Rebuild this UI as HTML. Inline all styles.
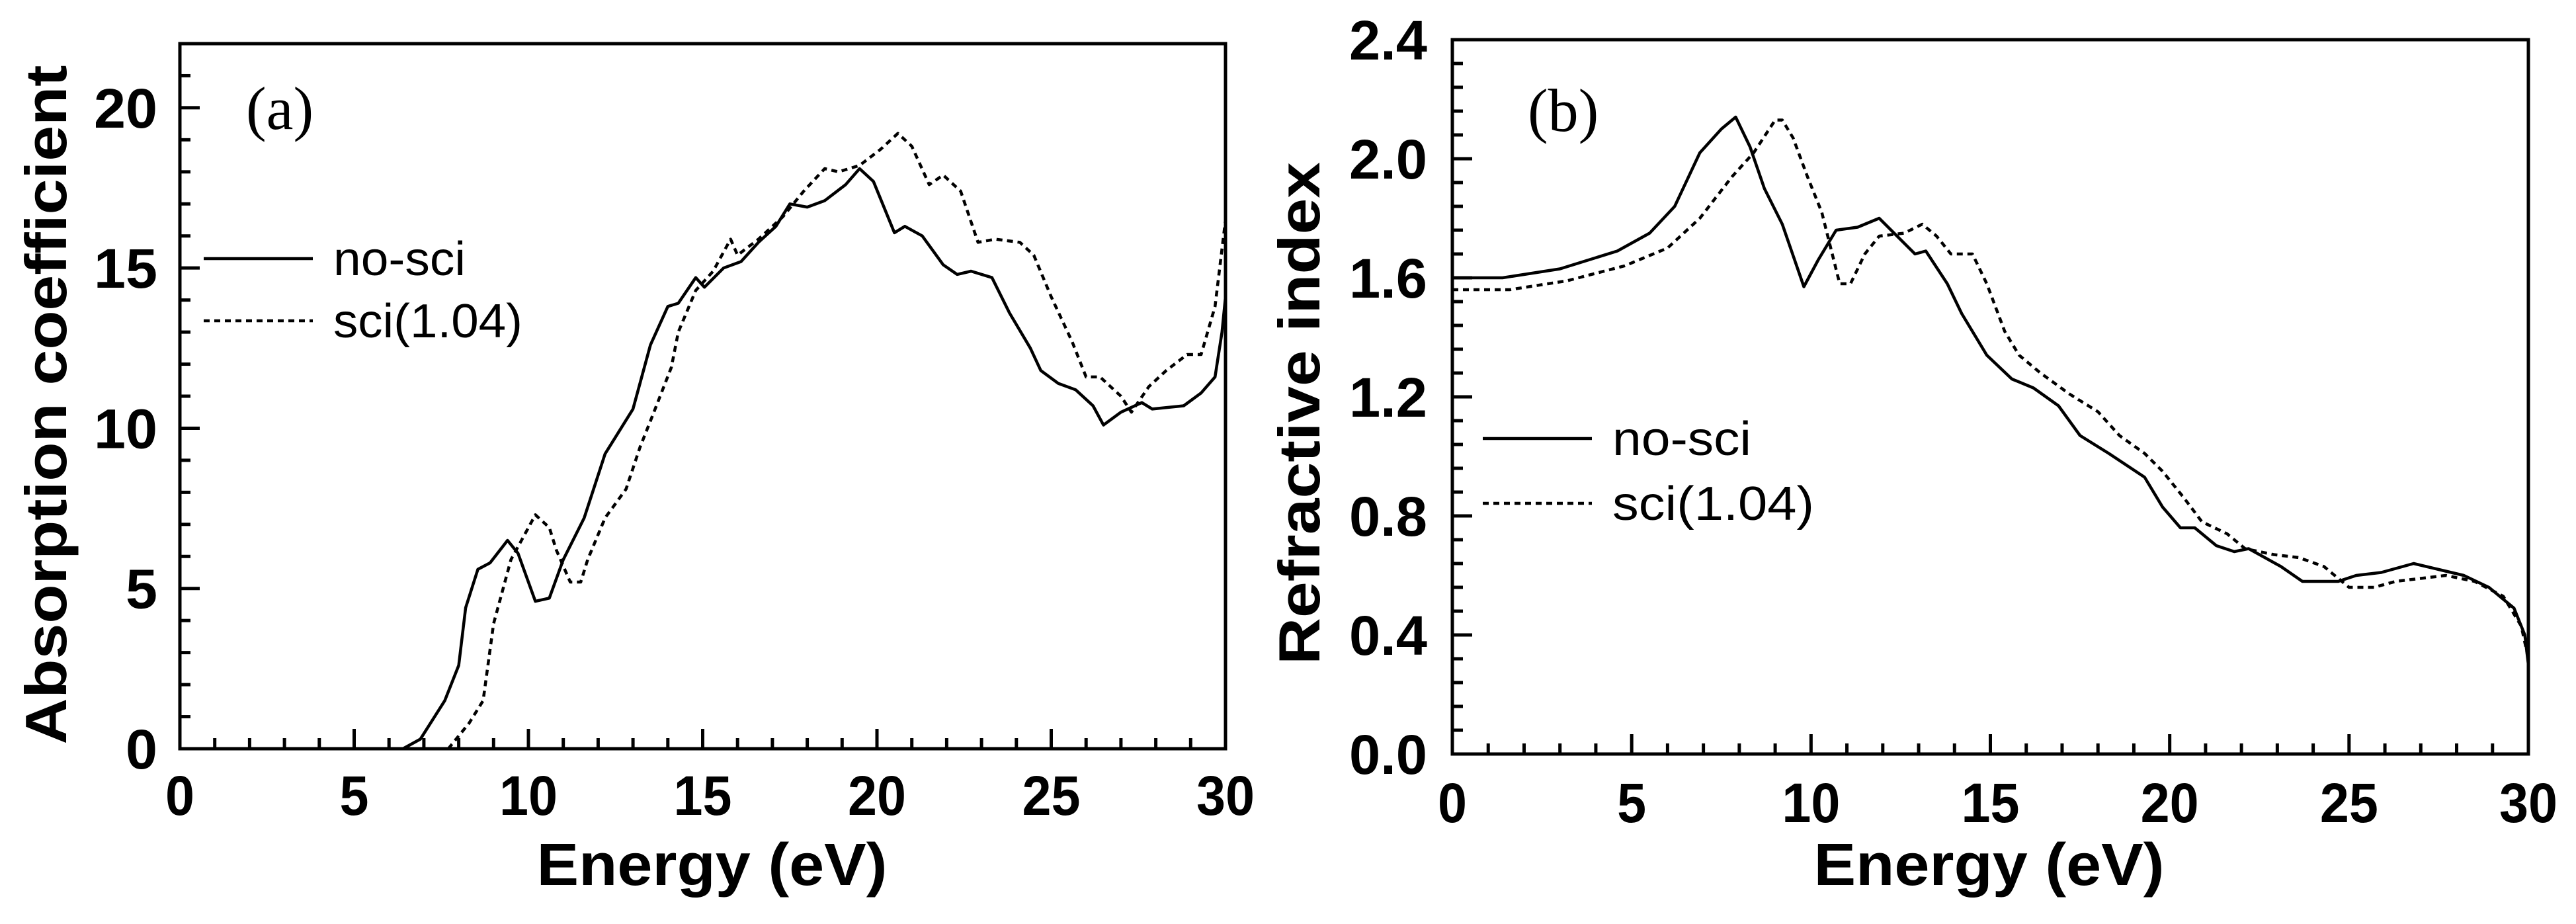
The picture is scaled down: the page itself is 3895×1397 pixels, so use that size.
<!DOCTYPE html>
<html><head><meta charset="utf-8"><style>
html,body{margin:0;padding:0;background:#fff}
svg{display:block}
text{font-family:"Liberation Sans",sans-serif;fill:#000}
</style></head><body>
<svg id="fig" width="3895" height="1397" viewBox="0 0 3895 1397" xmlns="http://www.w3.org/2000/svg"></svg>
<script>
// Panel (a) data: absorption coefficient
const aNoSciE = [6.4,6.9,7.6,8.0,8.2,8.55,8.9,9.4,9.7,10.2,10.6,11.0,11.6,12.2,12.6,13.0,13.5,14.0,14.3,14.8,15.05,15.6,16.1,16.6,17.1,17.5,18.0,18.5,19.1,19.5,19.9,20.5,20.8,21.3,21.9,22.3,22.7,23.3,23.8,24.4,24.7,25.2,25.7,26.2,26.5,27.0,27.6,27.9,28.8,29.3,29.7,29.9,30];
const aNoSciV = [0,0.3,1.5,2.6,4.4,5.6,5.8,6.5,6.1,4.6,4.7,5.9,7.2,9.2,9.9,10.6,12.6,13.8,13.9,14.7,14.4,15.0,15.2,15.8,16.3,17.0,16.9,17.1,17.6,18.1,17.7,16.1,16.3,16.0,15.1,14.8,14.9,14.7,13.6,12.5,11.8,11.4,11.2,10.7,10.1,10.5,10.8,10.6,10.7,11.1,11.6,13.0,14.1];
const aSciE = [7.7,8.3,8.7,9.0,9.5,10.0,10.2,10.6,10.8,11.2,11.5,11.7,12.2,12.8,13.2,13.6,14.1,14.3,14.8,15.3,15.8,16.0,16.6,17.3,17.9,18.5,18.9,19.5,20.1,20.6,21.0,21.5,21.9,22.4,22.9,23.4,24.1,24.5,25.0,25.6,26.0,26.4,27.0,27.3,27.8,28.3,28.9,29.3,29.7,30];
const aSciV = [0,0.8,1.5,3.9,5.9,6.9,7.3,6.9,6.2,5.2,5.2,5.9,7.2,8.1,9.4,10.5,11.9,13.0,14.3,14.9,15.9,15.4,15.9,16.6,17.4,18.1,18.0,18.2,18.7,19.2,18.8,17.6,17.9,17.4,15.8,15.9,15.8,15.4,14.1,12.7,11.6,11.6,11.0,10.5,11.3,11.8,12.3,12.3,13.8,16.5];
const aXTicks = [0,5,10,15,20,25,30];
const aYTicks = [0,5,10,15,20];
// Panel (b) data: refractive index
const bNoSciE = [0,1.4,3.0,4.6,5.5,6.2,6.9,7.5,7.9,8.3,8.7,9.2,9.8,10.2,10.7,11.3,11.9,12.4,12.9,13.2,13.8,14.2,14.9,15.6,16.2,16.9,17.5,18.3,19.3,19.8,20.3,20.7,21.3,21.8,22.2,23.1,23.7,24.7,25.2,25.9,26.2,26.8,27.5,28.2,28.9,29.6,29.9,30];
const bNoSciV = [1.60,1.60,1.63,1.69,1.75,1.84,2.02,2.10,2.14,2.04,1.90,1.78,1.57,1.66,1.76,1.77,1.80,1.74,1.68,1.69,1.58,1.48,1.34,1.26,1.23,1.17,1.07,1.01,0.93,0.83,0.76,0.76,0.70,0.68,0.69,0.63,0.58,0.58,0.60,0.61,0.62,0.64,0.62,0.60,0.56,0.49,0.40,0.30];
const bSciE = [0,1.6,3.2,4.8,6.0,6.9,7.8,8.4,9.0,9.2,9.5,9.9,10.3,10.8,11.1,11.5,11.9,12.6,13.1,13.5,13.9,14.5,14.9,15.4,15.8,16.4,17.2,18.0,18.6,19.3,19.8,20.4,20.9,21.6,22.1,22.9,23.6,24.3,25.0,25.7,26.3,27.0,27.7,28.5,29.3,29.8,30];
const bSciV = [1.56,1.56,1.59,1.64,1.70,1.80,1.94,2.02,2.13,2.13,2.07,1.94,1.82,1.58,1.58,1.68,1.74,1.75,1.78,1.74,1.68,1.68,1.58,1.42,1.34,1.28,1.21,1.15,1.07,1.01,0.95,0.86,0.78,0.74,0.69,0.67,0.66,0.63,0.56,0.56,0.58,0.59,0.60,0.58,0.53,0.43,0.32];
const bXTicks = [0,5,10,15,20,25,30];
const bYTicks = [0,0.4,0.8,1.2,1.6,2.0,2.4];

const NS = "http://www.w3.org/2000/svg";
const svg = document.getElementById('fig');
function mk(tag, attrs, parent){
  const e = document.createElementNS(NS, tag);
  for (const k in attrs) e.setAttribute(k, attrs[k]);
  (parent||svg).appendChild(e);
  return e;
}
function panel(p){
  const g = mk('g', {});
  
  
  const X = v => p.x0 + (v - p.xmin) / (p.xmax - p.xmin) * (p.x1 - p.x0);
  const Y = v => p.y0 - (v - p.ymin) / (p.ymax - p.ymin) * (p.y0 - p.y1);
  // minor/major ticks x
  for (let v = p.xmin; v <= p.xmax + 1e-9; v += p.xMinor) {
    const major = Math.abs(v / 5 - Math.round(v / 5)) < 1e-6;
    const t = mk('line', {x1:X(v), x2:X(v), y1:p.y0, y2:p.y0 - (major?30:16), stroke:'#000','stroke-width':5}, g);
    
    
  }
  for (let i = 0; ; i++) {
    const v = p.ymin + i * p.yMinor;
    if (v > p.ymax + 1e-9) break;
    const major = p.yTicks.some(t => Math.abs(t - v) < 1e-6);
    const t = mk('line', {x1:p.x0, x2:p.x0 + (major?30:16), y1:Y(v), y2:Y(v), stroke:'#000','stroke-width':5}, g);
    
    
  }
  const box = mk('rect', {x:p.x0, y:p.y1, width:p.x1 - p.x0, height:p.y0 - p.y1, fill:'none', stroke:'#000', 'stroke-width':5}, g);
  
  
  p.xTicks.forEach(v => {
    const s = String(v);
    const t = mk('text', {x:X(v), y:p.xLabY, 'font-size':84, 'font-weight':'bold', 'text-anchor':'middle', textLength:s.length*44, lengthAdjust:'spacingAndGlyphs'}, g);
    t.textContent = s;
    
    
  });
  p.yTicks.forEach(v => {
    const s = p.yFmt(v);
    const w = s.replace('.', '').length * 48 + (s.includes('.') ? 22 : 0);
    const t = mk('text', {x:p.yLabX, y:Y(v) + 30, 'font-size':84, 'font-weight':'bold', 'text-anchor':'end', textLength:w, lengthAdjust:'spacingAndGlyphs'}, g);
    t.textContent = s;
    
    
  });
  const series = [[p.e1, p.v1, null, 'series-no-sci'], [p.e2, p.v2, '9,7', 'series-sci']];
  series.forEach(s => {
    const d = s[0].map((e, i) => (i ? 'L' : 'M') + X(e).toFixed(1) + ' ' + Y(s[1][i]).toFixed(1)).join(' ');
    const a = {d:d, fill:'none', stroke:'#000', 'stroke-width':4.5, 'stroke-linejoin':'round'};
    if (s[2]) a['stroke-dasharray'] = s[2];
    const path = mk('path', a, g);
    
    
  });
  // legend
  const lg = mk('g', {}, g);
  
  
  [['no-sci', null, p.legY1, p.legW1], ['sci(1.04)', '9,7', p.legY2, p.legW2]].forEach(L => {
    const a = {x1:p.legX, x2:p.legX + 165, y1:L[2], y2:L[2], stroke:'#000', 'stroke-width':4.5};
    if (L[1]) a['stroke-dasharray'] = L[1];
    const ln = mk('line', a, lg);
    
    
    const t = mk('text', {x:p.legX + 196, y:L[2] + 25, 'font-size':72, textLength:L[3], lengthAdjust:'spacingAndGlyphs'}, lg);
    t.textContent = L[0];
    
    
  });
  const pl = mk('text', {x:p.tagX, y:p.tagY, 'font-size':92, style:'font-family:"Liberation Serif",serif'}, g);
  pl.textContent = p.tag;
  
  
  const xt = mk('text', {x:(p.x0 + p.x1) / 2 + p.xtOff, y:1338, 'font-size':90, 'font-weight':'bold', 'text-anchor':'middle', textLength:530, lengthAdjust:'spacingAndGlyphs'}, g);
  xt.textContent = 'Energy (eV)';
  
  
  const yt = mk('text', {x:0, y:0, 'font-size':88, 'font-weight':'bold', 'text-anchor':'middle', textLength:p.ytLen, lengthAdjust:'spacingAndGlyphs', transform:`translate(${p.ytX},${p.ytY}) rotate(-90)`}, g);
  yt.textContent = p.ytitle;
  
  
}
panel({name:'panel-a-absorption', x0:272, x1:1853, y0:1132, y1:66, xmin:0, xmax:30, ymin:0, ymax:22, xMinor:1, yMinor:1,
  xTicks:aXTicks, yTicks:aYTicks, yFmt:v => String(v), xLabY:1232, yLabX:238,
  e1:aNoSciE, v1:aNoSciV, e2:aSciE, v2:aSciV, legX:308, legY1:391, legY2:485, legW1:200, legW2:286,
  tag:'(a)', tagX:372, tagY:195, xtOff:14, ytitle:'Absorption coefficient', ytX:100, ytY:612, ytLen:1027});
panel({name:'panel-b-refractive', x0:2196, x1:3823, y0:1140, y1:60, xmin:0, xmax:30, ymin:0, ymax:2.4, xMinor:1, yMinor:0.08,
  xTicks:bXTicks, yTicks:bYTicks, yFmt:v => v.toFixed(1), xLabY:1243, yLabX:2158,
  e1:bNoSciE, v1:bNoSciV, e2:bSciE, v2:bSciV, legX:2242, legY1:663, legY2:761, legW1:210, legW2:305,
  tag:'(b)', tagX:2310, tagY:198, xtOff:-2, ytitle:'Refractive index', ytX:1995, ytY:625, ytLen:760});
</script>
</body></html>
